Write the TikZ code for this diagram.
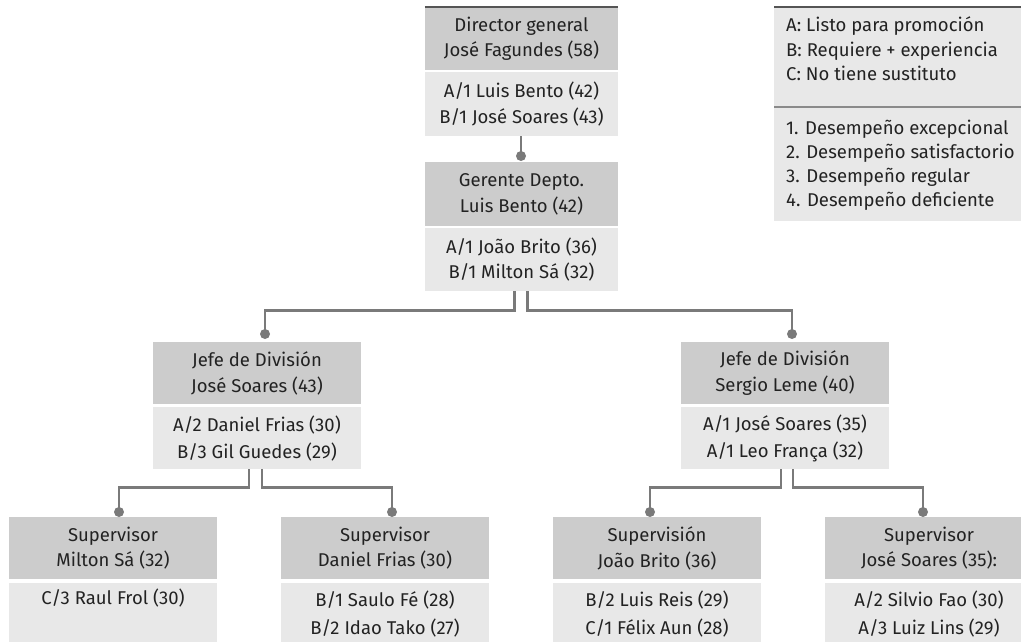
\documentclass[tikz,border=0pt]{standalone}
\usepackage{fontspec}
\setmainfont{Fira Sans}
\definecolor{hdr}{HTML}{CCCCCC}
\definecolor{bdy}{HTML}{E8E8E8}
\definecolor{conn}{HTML}{7A7A7A}
\definecolor{topl}{HTML}{555555}
\definecolor{divl}{HTML}{8A8A8A}
\definecolor{txt}{HTML}{222222}
\begin{document}
\begin{tikzpicture}[x=1pt,y=-1pt,
 boxbase/.style={anchor=north, inner sep=0pt, align=center, text=txt, font=\fontsize{18.5}{25.5}\selectfont},
 hdrbox/.style={boxbase, fill=hdr},
 bdybox/.style={boxbase, fill=bdy},
 wide/.style={minimum width=208pt},
 narrow/.style={minimum width=193pt},
 conline/.style={draw=conn, line width=2.5pt},
 dotc/.style={circle, fill=conn, inner sep=0pt, minimum size=10pt},
 topline/.style={draw=topl, line width=2pt},
 divline/.style={draw=divl, line width=1.5pt},
 legtext/.style={anchor=west, inner sep=0pt, text=txt, font=\fontsize{18.5}{20}\selectfont, text height=13pt, text depth=4pt},
]
\useasboundingbox (0,0) rectangle (1021,642);

% Director
\node[hdrbox,narrow,minimum height=63pt] (dirh) at (521.5,7) {Director general\\José Fagundes (58)};
\node[bdybox,narrow,minimum height=64pt] (dirb) at (521.5,72) {A/1 Luis Bento (42)\\B/1 José Soares (43)};
\draw[topline] (dirh.north west) -- (dirh.north east);

% Gerente
\node[hdrbox,narrow,minimum height=64pt] (gerh) at (521.5,162) {Gerente Depto.\\Luis Bento (42)};
\node[bdybox,narrow,minimum height=63pt] (gerb) at (521.5,228) {A/1 João Brito (36)\\B/1 Milton Sá (32)};

% Jefes
\node[hdrbox,wide,minimum height=62pt] (jlh) at (257,342) {Jefe de División\\José Soares (43)};
\node[bdybox,wide,minimum height=62pt] (jlb) at (257,407) {A/2 Daniel Frias (30)\\[1.5pt]B/3 Gil Guedes (29)};
\node[hdrbox,wide,minimum height=62pt] (jrh) at (785,342) {Jefe de División\\Sergio Leme (40)};
\node[bdybox,wide,minimum height=62pt] (jrb) at (785,407) {A/1 José Soares (35)\\[1.5pt]A/1 Leo França (32)};

% Supervisors
\node[hdrbox,wide,minimum height=62pt] (s1h) at (113,517) {Supervisor\\Milton Sá (32)};
\node[bdybox,wide,minimum height=62pt] (s1b) at (113,583) {C/3 Raul Frol (30)\\[2.5pt]\strut};
\node[hdrbox,wide,minimum height=62pt] (s2h) at (385,517) {Supervisor\\Daniel Frias (30)};
\node[bdybox,wide,minimum height=62pt] (s2b) at (385,583) {B/1 Saulo Fé (28)\\[2.5pt]B/2 Idao Tako (27)};
\node[hdrbox,wide,minimum height=62pt] (s3h) at (657,517) {Supervisión\\João Brito (36)};
\node[bdybox,wide,minimum height=62pt] (s3b) at (657,583) {B/2 Luis Reis (29)\\[2.5pt]C/1 Félix Aun (28)};
\node[hdrbox,wide,minimum height=62pt] (s4h) at (929,517) {Supervisor\\José Soares (35):};
\node[bdybox,wide,minimum height=62pt] (s4b) at (929,583) {A/2 Silvio Fao (30)\\[2.5pt]A/3 Luiz Lins (29)};

% Dots
\node[dotc] (d0) at (521,156) {};
\node[dotc] (dl) at (265,334) {};
\node[dotc] (dr) at (792,334) {};
\node[dotc] (d1) at (119,512) {};
\node[dotc] (d2) at (392,512) {};
\node[dotc] (d3) at (650,512) {};
\node[dotc] (d4) at (923,512) {};

% Connectors
\draw[conline] (dirb.south -| d0) -- (d0.center);
\draw[conline] ([xshift=-7pt]gerb.south) -- ++(0,19) -| (dl.center);
\draw[conline] ([xshift=6pt]gerb.south) -- ++(0,19) -| (dr.center);
\draw[conline] ([xshift=-8pt]jlb.south) -- ++(0,18) -| (d1.center);
\draw[conline] ([xshift=5pt]jlb.south) -- ++(0,18) -| (d2.center);
\draw[conline] ([xshift=-4pt]jrb.south) -- ++(0,18) -| (d3.center);
\draw[conline] ([xshift=8pt]jrb.south) -- ++(0,18) -| (d4.center);

% Legend
\node[fill=bdy, inner sep=0pt, minimum width=250pt, minimum height=214pt, anchor=north west] (leg) at (774,7) {};
\draw[topline] (leg.north west) -- (leg.north east);
\draw[divline] (774,107) -- (1024,107);
\node[legtext] (l1) at (786,27) {A: Listo para promoción};
\node[legtext] (l2) at (786,52) {B: Requiere + experiencia};
\node[legtext] (l3) at (786,76) {C: No tiene sustituto};
\node[legtext] (l4) at (786,130) {1. Desempeño excepcional};
\node[legtext] (l5) at (786,154) {2. Desempeño satisfactorio};
\node[legtext] (l6) at (786,178) {3. Desempeño regular};
\node[legtext] (l7) at (786,202) {4. Desempeño deficiente};
\end{tikzpicture}
\end{document}
